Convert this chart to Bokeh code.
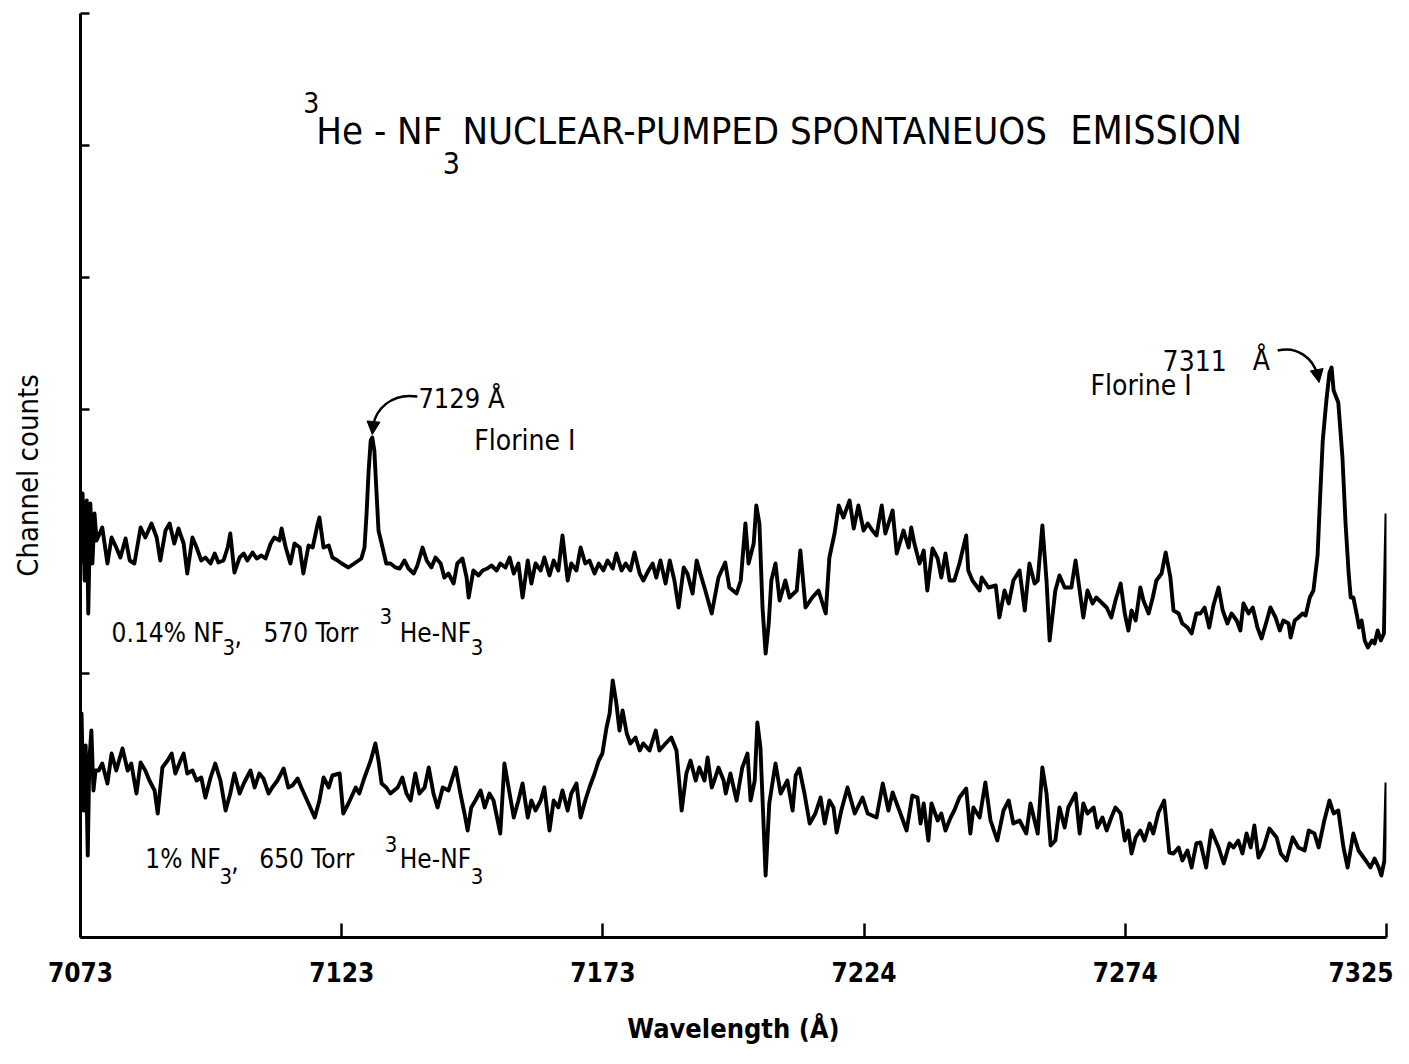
from bokeh.plotting import figure
from bokeh.models import Range1d, FixedTicker, Label, Arrow, NormalHead, CustomJSTickFormatter
from bokeh.embed import file_html
from bokeh.resources import INLINE

# ---------------- data ----------------
tick_values = [7073, 7123.4, 7173.8, 7224.2, 7274.6, 7325]
tick_labels = ["7073", "7123", "7173", "7224", "7274", "7325"]
count_ticks = [0, 132, 264, 396, 528, 660, 792, 924]

# 0.14% NF3, 570 Torr 3He-NF3  (upper trace)
wl_a = [7073.0, 7073.4, 7073.8, 7074.2, 7074.5, 7074.9, 7075.3, 7075.7, 7076.1, 7077.2,
        7078.2, 7079.0, 7079.9, 7080.7, 7081.7, 7082.5, 7083.4, 7084.6, 7085.5, 7086.7,
        7087.7, 7088.4, 7089.4, 7090.2, 7091.1, 7091.9, 7092.9, 7093.6, 7094.6, 7095.4,
        7096.3, 7097.1, 7098.1, 7098.9, 7099.6, 7100.6, 7101.4, 7101.9, 7102.7, 7103.7,
        7104.5, 7105.2, 7106.2, 7107.0, 7107.9, 7108.7, 7109.7, 7110.4, 7111.4, 7111.8,
        7112.6, 7113.5, 7114.3, 7115.3, 7116.0, 7117.0, 7117.8, 7118.7, 7119.1, 7119.9,
        7120.9, 7121.6, 7122.6, 7123.4, 7124.7, 7126.1, 7127.2, 7127.8, 7128.2, 7128.6,
        7129.0, 7129.3, 7129.7, 7130.1, 7130.5, 7131.1, 7132.0, 7132.8, 7133.8, 7134.6,
        7135.5, 7136.3, 7137.3, 7138.0, 7139.0, 7139.8, 7140.7, 7141.5, 7142.5, 7143.2,
        7144.0, 7145.0, 7145.7, 7146.7, 7147.5, 7147.9, 7148.8, 7149.8, 7150.6, 7151.5,
        7152.3, 7153.3, 7154.0, 7155.0, 7155.8, 7156.6, 7157.5, 7158.3, 7159.3, 7160.0,
        7160.8, 7161.8, 7162.5, 7163.5, 7164.3, 7165.2, 7166.0, 7167.0, 7167.7, 7168.7,
        7169.5, 7170.4, 7171.2, 7172.2, 7173.0, 7173.9, 7174.7, 7175.7, 7176.4, 7177.4,
        7178.2, 7179.1, 7179.9, 7180.9, 7181.6, 7182.6, 7183.4, 7184.1, 7184.9, 7185.9,
        7186.7, 7187.6, 7188.4, 7189.4, 7190.1, 7191.1, 7191.9, 7192.6, 7193.4, 7194.8,
        7196.1, 7197.4, 7198.2, 7199.6, 7200.4, 7201.3, 7201.9, 7202.9, 7203.4, 7204.0,
        7204.6, 7205.2, 7205.8, 7206.3, 7207.1, 7207.9, 7209.0, 7209.8, 7211.2, 7211.9,
        7212.9, 7214.2, 7215.4, 7216.8, 7217.5, 7218.5, 7219.3, 7220.2, 7221.4, 7222.2,
        7223.1, 7224.1, 7224.9, 7225.8, 7226.6, 7227.6, 7228.3, 7229.7, 7230.5, 7231.8,
        7232.8, 7233.3, 7233.9, 7234.9, 7235.7, 7236.4, 7237.4, 7238.4, 7239.1, 7239.9,
        7240.7, 7241.6, 7242.6, 7243.9, 7244.3, 7245.1, 7246.5, 7246.9, 7248.2, 7249.6,
        7250.3, 7251.3, 7252.1, 7253.0, 7254.2, 7255.2, 7256.1, 7257.1, 7257.7, 7258.6,
        7259.4, 7260.0, 7261.1, 7261.9, 7262.9, 7264.2, 7265.0, 7265.8, 7266.5, 7267.3,
        7268.3, 7269.0, 7270.2, 7271.0, 7271.9, 7272.7, 7273.7, 7274.5, 7275.2, 7275.8,
        7276.6, 7277.5, 7278.1, 7279.1, 7279.9, 7280.6, 7281.6, 7282.4, 7283.3, 7283.9,
        7284.9, 7285.6, 7286.6, 7287.4, 7288.3, 7289.1, 7289.9, 7290.8, 7291.6, 7292.6,
        7293.4, 7294.3, 7295.1, 7296.1, 7296.8, 7297.4, 7298.4, 7299.2, 7300.1, 7300.9,
        7301.9, 7302.6, 7303.6, 7304.4, 7305.1, 7306.1, 7306.5, 7307.3, 7308.0, 7308.8,
        7309.4, 7310.2, 7310.9, 7311.7, 7312.1, 7312.7, 7313.4, 7314.0, 7314.4, 7314.8,
        7315.7, 7316.5, 7317.1, 7317.7, 7318.1, 7318.6, 7319.3, 7319.7, 7320.2, 7320.8,
        7321.4, 7322.2, 7322.7, 7323.3, 7323.9, 7324.5, 7325.0]
counts_a = [374, 444, 357, 437, 324, 434, 374, 424, 397, 410,
            374, 400, 390, 380, 399, 377, 374, 410, 400, 414,
            400, 377, 407, 414, 394, 409, 394, 364, 400, 390,
            377, 380, 374, 384, 375, 377, 390, 404, 365, 380,
            384, 377, 385, 379, 382, 379, 394, 400, 397, 409,
            390, 374, 394, 390, 364, 392, 390, 412, 420, 390,
            392, 380, 377, 374, 370, 375, 379, 390, 424, 467,
            497, 500, 487, 447, 407, 394, 374, 374, 370, 369,
            377, 369, 364, 372, 390, 377, 370, 380, 374, 360,
            364, 354, 374, 379, 360, 340, 367, 362, 367, 369,
            372, 367, 374, 370, 380, 364, 374, 340, 377, 354,
            374, 367, 380, 362, 377, 367, 402, 357, 374, 367,
            390, 374, 377, 364, 374, 367, 377, 369, 384, 367,
            374, 367, 385, 364, 357, 367, 374, 360, 377, 354,
            377, 357, 330, 370, 364, 344, 377, 364, 350, 324,
            360, 375, 350, 344, 357, 414, 374, 394, 432, 414,
            330, 284, 314, 357, 374, 337, 357, 340, 347, 387,
            330, 340, 347, 324, 380, 404, 432, 420, 437, 409,
            432, 407, 414, 407, 402, 432, 404, 427, 384, 407,
            390, 410, 394, 374, 387, 347, 389, 379, 360, 384,
            357, 357, 374, 402, 367, 357, 347, 360, 350, 352,
            320, 347, 334, 357, 367, 327, 374, 354, 357, 412,
            357, 297, 347, 362, 350, 350, 377, 347, 320, 347,
            334, 340, 334, 330, 320, 337, 354, 324, 307, 327,
            317, 350, 337, 324, 340, 357, 364, 385, 360, 327,
            324, 314, 310, 304, 324, 324, 330, 310, 332, 350,
            327, 314, 324, 317, 307, 334, 324, 330, 310, 299,
            317, 330, 320, 307, 317, 314, 300, 317, 320, 324,
            322, 340, 347, 382, 430, 497, 537, 565, 570, 547,
            535, 480, 414, 364, 340, 340, 322, 310, 317, 297,
            290, 297, 294, 307, 297, 304, 424]

# 1% NF3, 650 Torr 3He-NF3  (lower trace)
wl_b = [7073.0, 7073.2, 7073.6, 7074.0, 7074.4, 7074.7, 7075.1, 7075.5, 7075.9, 7076.5,
        7077.2, 7078.2, 7079.0, 7079.9, 7081.1, 7082.1, 7082.8, 7083.8, 7084.6, 7085.5,
        7086.3, 7087.3, 7087.9, 7088.8, 7089.8, 7090.6, 7091.3, 7092.3, 7092.9, 7093.6,
        7094.6, 7095.4, 7096.3, 7097.1, 7098.1, 7099.0, 7100.0, 7101.0, 7101.9, 7102.7,
        7103.7, 7104.5, 7105.8, 7106.6, 7107.5, 7108.3, 7109.3, 7110.0, 7111.0, 7112.2,
        7113.1, 7113.9, 7114.9, 7115.6, 7117.0, 7118.2, 7119.1, 7119.9, 7120.9, 7121.6,
        7123.0, 7123.7, 7124.7, 7126.1, 7126.8, 7127.8, 7129.0, 7129.9, 7130.5, 7131.1,
        7132.0, 7132.8, 7134.2, 7135.1, 7135.9, 7136.7, 7137.6, 7138.4, 7139.4, 7140.2,
        7141.1, 7141.9, 7142.9, 7144.0, 7145.4, 7146.3, 7147.1, 7147.7, 7148.4, 7149.2,
        7150.2, 7151.0, 7151.9, 7152.7, 7154.0, 7154.8, 7155.8, 7156.6, 7157.5, 7158.3,
        7159.3, 7160.0, 7160.8, 7161.8, 7162.5, 7163.5, 7164.3, 7165.2, 7166.0, 7167.0,
        7167.7, 7168.7, 7169.5, 7170.4, 7171.2, 7172.2, 7173.0, 7173.7, 7174.5, 7175.1,
        7175.7, 7176.4, 7177.0, 7177.6, 7178.4, 7179.1, 7180.1, 7180.9, 7181.6, 7182.8,
        7184.0, 7184.7, 7185.9, 7187.0, 7188.0, 7189.0, 7189.9, 7190.7, 7191.7, 7192.4,
        7193.4, 7194.0, 7194.8, 7195.3, 7196.1, 7197.1, 7197.5, 7198.4, 7199.6, 7200.7,
        7201.7, 7202.3, 7203.1, 7203.6, 7204.2, 7205.2, 7205.9, 7207.1, 7208.1, 7209.4,
        7210.4, 7211.0, 7211.7, 7212.7, 7213.7, 7214.8, 7215.8, 7216.6, 7217.5, 7218.3,
        7218.9, 7219.8, 7221.0, 7222.4, 7223.9, 7224.9, 7226.6, 7227.8, 7228.9, 7229.7,
        7231.0, 7232.4, 7233.5, 7234.5, 7235.1, 7235.7, 7236.6, 7237.2, 7238.4, 7239.1,
        7239.9, 7240.9, 7241.6, 7242.6, 7243.9, 7244.7, 7245.3, 7246.5, 7247.6, 7248.6,
        7249.9, 7251.1, 7252.1, 7253.0, 7254.2, 7255.5, 7256.3, 7257.7, 7258.6, 7259.4,
        7260.2, 7261.1, 7261.9, 7262.9, 7263.6, 7265.0, 7265.8, 7266.5, 7267.3, 7268.5,
        7269.2, 7270.2, 7271.0, 7271.9, 7272.7, 7273.7, 7274.5, 7275.2, 7275.8, 7276.6,
        7277.5, 7278.3, 7279.3, 7280.0, 7281.0, 7282.1, 7283.1, 7283.9, 7284.9, 7285.6,
        7286.6, 7287.4, 7288.3, 7289.1, 7290.2, 7291.2, 7292.6, 7293.6, 7294.7, 7295.5,
        7296.4, 7297.2, 7298.0, 7298.8, 7299.5, 7300.3, 7301.3, 7302.4, 7303.8, 7304.6,
        7305.7, 7306.9, 7308.0, 7309.2, 7310.0, 7311.1, 7311.9, 7313.0, 7314.0, 7314.8,
        7315.7, 7316.7, 7317.5, 7318.6, 7319.6, 7321.0, 7321.9, 7322.7, 7323.5, 7324.0,
        7324.6, 7325.0]
counts_b = [177, 224, 127, 192, 82, 177, 207, 147, 167, 167,
            174, 154, 184, 167, 189, 167, 174, 144, 175, 167,
            157, 147, 124, 170, 177, 184, 164, 177, 184, 164,
            167, 157, 160, 140, 160, 174, 157, 127, 144, 164,
            144, 154, 167, 150, 164, 159, 144, 150, 157, 169,
            150, 152, 159, 150, 134, 120, 137, 160, 150, 162,
            164, 124, 134, 150, 144, 160, 177, 194, 177, 154,
            150, 144, 150, 160, 144, 137, 164, 144, 150, 170,
            144, 130, 150, 147, 170, 144, 124, 107, 130, 137,
            147, 130, 144, 137, 104, 174, 144, 120, 137, 154,
            120, 137, 127, 137, 150, 107, 137, 130, 147, 127,
            144, 154, 120, 137, 150, 164, 177, 184, 210, 224,
            257, 234, 207, 227, 204, 194, 200, 187, 194, 187,
            207, 187, 194, 200, 187, 127, 164, 177, 157, 170,
            157, 180, 150, 157, 170, 157, 144, 164, 137, 170,
            184, 137, 157, 215, 190, 62, 134, 174, 144, 157,
            127, 162, 169, 144, 114, 124, 140, 114, 137, 130,
            105, 127, 150, 124, 140, 124, 120, 154, 127, 145,
            127, 107, 142, 140, 114, 134, 97, 134, 117, 124,
            107, 120, 127, 140, 149, 104, 130, 120, 155, 117,
            97, 127, 137, 114, 117, 104, 134, 104, 170, 144,
            92, 97, 130, 110, 130, 144, 104, 134, 124, 130,
            110, 120, 107, 120, 130, 124, 97, 107, 84, 100,
            107, 97, 114, 104, 125, 137, 85, 84, 90, 77,
            87, 70, 94, 95, 70, 107, 90, 74, 94, 90,
            97, 84, 104, 90, 112, 80, 90, 109, 100, 84,
            77, 100, 90, 87, 107, 104, 90, 117, 137, 124,
            127, 90, 70, 104, 87, 77, 70, 79, 70, 62,
            77, 155]

FONT = "DejaVu Sans Condensed, Liberation Sans, sans-serif"

# ---------------- figure ----------------
p = figure(width=1393, height=1048, output_backend="svg", toolbar_location=None,
           x_range=Range1d(7073, 7325), y_range=Range1d(0, 924),
           min_border_left=80, min_border_right=7, min_border_top=13, min_border_bottom=111)
p.outline_line_color = None
p.grid.visible = False
p.background_fill_color = "white"
p.border_fill_color = "white"

p.line(wl_a, counts_a, line_width=3.9, line_color="black", line_join="round")
p.line(wl_b, counts_b, line_width=3.9, line_color="black", line_join="round")

xa = p.xaxis[0]
xa.ticker = FixedTicker(ticks=tick_values)
xa.major_label_overrides = dict(zip(tick_values, tick_labels))
xa.major_tick_in = 14
xa.major_tick_out = 0
xa.minor_tick_line_color = None
xa.axis_line_width = 3
xa.axis_line_color = "black"
xa.major_tick_line_width = 2.5
xa.major_tick_line_color = "black"
xa.major_label_text_font = FONT
xa.major_label_text_font_size = "26px"
xa.major_label_text_font_style = "bold"
xa.major_label_text_color = "black"
xa.major_label_standoff = 24
xa.axis_label = "Wavelength (Å)"
xa.axis_label_text_font = FONT
xa.axis_label_text_font_size = "27px"
xa.axis_label_text_font_style = "bold"
xa.axis_label_text_color = "black"
xa.axis_label_standoff = 28

ya = p.yaxis[0]
ya.ticker = FixedTicker(ticks=count_ticks)
ya.formatter = CustomJSTickFormatter(code="return ''")
ya.major_tick_in = 9
ya.major_tick_out = 0
ya.minor_tick_line_color = None
ya.axis_line_width = 3
ya.axis_line_color = "black"
ya.major_tick_line_width = 2.5
ya.major_tick_line_color = "black"
ya.axis_label = "Channel counts"
ya.axis_label_text_font = FONT
ya.axis_label_text_font_size = "29px"
ya.axis_label_text_font_style = "normal"
ya.axis_label_text_color = "black"
ya.axis_label_standoff = 36


def lab(x, y, text, size, style="normal"):
    # y is the vertical centre of the text
    p.add_layout(Label(x=x, y=y, text=text, text_font=FONT,
                       text_font_size=f"{size}px", text_font_style=style,
                       text_color="black", text_baseline="middle", text_align="left"))


# title
lab(7116.0, 835, "3", 28)
lab(7118.5, 807, "He - NF", 38)
lab(7142.9, 775, "3", 30)
lab(7146.7, 807, "NUCLEAR-PUMPED SPONTANEUOS", 38)
lab(7264.0, 807, "EMISSION", 39)

# peak annotations
lab(7138.2, 539, "7129 Å", 27)
lab(7149.0, 497, "Florine I", 28)
lab(7281.8, 577, "7311", 28)
lab(7299.2, 577, "Å", 28)
lab(7267.9, 552, "Florine I", 28)

p.bezier(x0=7138.0, y0=541, cx0=7132.8, cy0=545, cx1=7129.9, cy1=527, x1=7129.5, y1=512,
         line_width=2.5, line_color="black")
p.add_layout(Arrow(end=NormalHead(size=13, fill_color="black", line_color="black"),
                   x_start=7129.5, y_start=514, x_end=7129.3, y_end=503,
                   line_width=2.5, line_color="black"))
p.bezier(x0=7304.0, y0=587, cx0=7308.0, cy0=592, cx1=7310.8, cy1=578, x1=7311.6, y1=564,
         line_width=2.5, line_color="black")
p.add_layout(Arrow(end=NormalHead(size=13, fill_color="black", line_color="black"),
                   x_start=7311.6, y_start=566, x_end=7312.0, y_end=555,
                   line_width=2.5, line_color="black"))

# series labels
lab(7079.0, 305, "0.14% NF", 26)
lab(7100.4, 291, "3", 22)
lab(7102.7, 303, ",", 26)
lab(7108.3, 305, "570 Torr", 26)
lab(7130.7, 322, "3", 22)
lab(7134.6, 305, "He-NF", 26)
lab(7148.3, 291, "3", 22)

lab(7085.5, 79, "1% NF", 26)
lab(7099.8, 62, "3", 22)
lab(7102.1, 77, ",", 26)
lab(7107.5, 79, "650 Torr", 26)
lab(7131.7, 94, "3", 22)
lab(7134.6, 79, "He-NF", 26)
lab(7148.3, 62, "3", 22)

open("out.html", "w").write(file_html(p, INLINE))
